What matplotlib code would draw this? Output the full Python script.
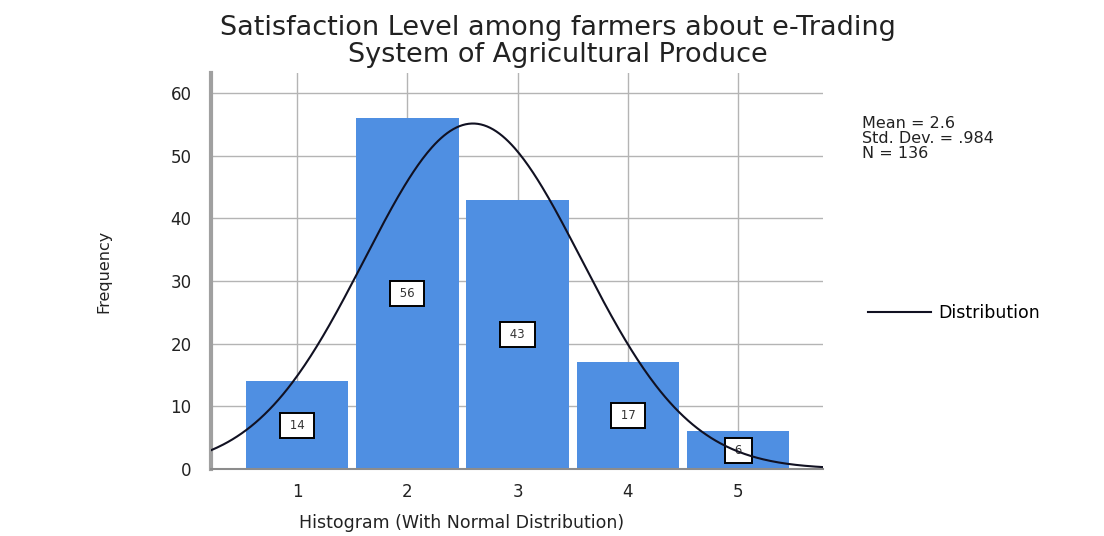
#!/usr/bin/env python3
import numpy as np
import matplotlib
matplotlib.use('Agg')
import matplotlib.pyplot as plt
import matplotlib.ticker as mticker

# データ
levels = [1, 2, 3, 4, 5]
counts = [14, 56, 43, 17, 6]
mean_txt = "2.6"
sd_txt = ".984"
n_txt = "136"
title_lines = ["Satisfaction Level among farmers about e-Trading",
               "System of Agricultural Produce"]
xlabel = "Histogram (With Normal Distribution)"
ylabel = "Frequency"
yticks = [0, 10, 20, 30, 40, 50, 60]

bar_color = '#4f8fe2'
grid_color = '#b4b4b4'

# 正規分布曲線 (平均・標準偏差・N から)
n = sum(counts)
mu = sum(l * c for l, c in zip(levels, counts)) / n
sd = 0.984

fig = plt.figure(figsize=(11.04, 5.36), dpi=100)
ax = fig.add_axes([0.1911, 0.125, 0.5544, 0.7388])

ax.set_xlim(0.22, 5.77)
ax.set_ylim(0, 63.2)

ax.bar(levels, counts, width=0.93, color=bar_color, zorder=2)

xs = np.linspace(0.22, 5.77, 400)
ys = n * 1.0 / (sd * np.sqrt(2 * np.pi)) * np.exp(-0.5 * ((xs - mu) / sd) ** 2)
ax.plot(xs, ys, color='#111122', lw=1.5, zorder=4, label='Distribution')

# 度数ラベル
for l, c in zip(levels, counts):
    ax.text(l, c / 2.0, " " + str(c) + " ", ha='center', va='center',
            fontsize=8.5, color='#333333', zorder=3,
            bbox=dict(boxstyle='square,pad=0.5', fc='white', ec='black', lw=1.4))

# 目盛り
ax.xaxis.set_major_locator(mticker.FixedLocator(levels))
ax.yaxis.set_major_locator(mticker.FixedLocator(yticks))
ax.tick_params(axis='both', length=0, labelsize=12, colors='#222222')
ax.tick_params(axis='y', pad=14)
ax.tick_params(axis='x', pad=10)

ax.grid(True, color=grid_color, lw=1.0, zorder=0)
ax.set_axisbelow(True)

for s in ['top', 'right']:
    ax.spines[s].set_visible(False)
ax.spines['left'].set_color('#a0a0a0')
ax.spines['left'].set_linewidth(3)
ax.spines['bottom'].set_color('#8c8c8c')
ax.spines['bottom'].set_linewidth(1.5)

ax.set_ylabel(ylabel, fontsize=11.5, color='#222222', labelpad=0)
ax.yaxis.set_label_coords(-0.162, 0.5)
fig.text(462 / 1104, 1 - 523 / 536, xlabel, ha='center', va='center',
         fontsize=12.5, color='#222222')

# タイトル
fig.text(0.505, 1 - 35 / 536, title_lines[0], ha='center', va='baseline',
         fontsize=19.5, color='#222222')
fig.text(0.505, 1 - 62 / 536, title_lines[1], ha='center', va='baseline',
         fontsize=19.5, color='#222222')

# 統計量 (複数行の baseline は最終行基準)
fig.text(862 / 1104, 1 - 158 / 536,
         "Mean = " + mean_txt + "\nStd. Dev. = " + sd_txt + "\nN = " + n_txt,
         ha='left', va='baseline', fontsize=11.5, linespacing=1.0,
         color='#222222')

leg = fig.legend(handles=[ax.lines[0]], loc='center left',
                 bbox_to_anchor=(868 / 1104, 1 - 313 / 536), frameon=False,
                 fontsize=12.5, handlelength=3.6, handletextpad=0.45,
                 borderpad=0, borderaxespad=0)

plt.savefig('out.png', dpi=100)
plt.close()
